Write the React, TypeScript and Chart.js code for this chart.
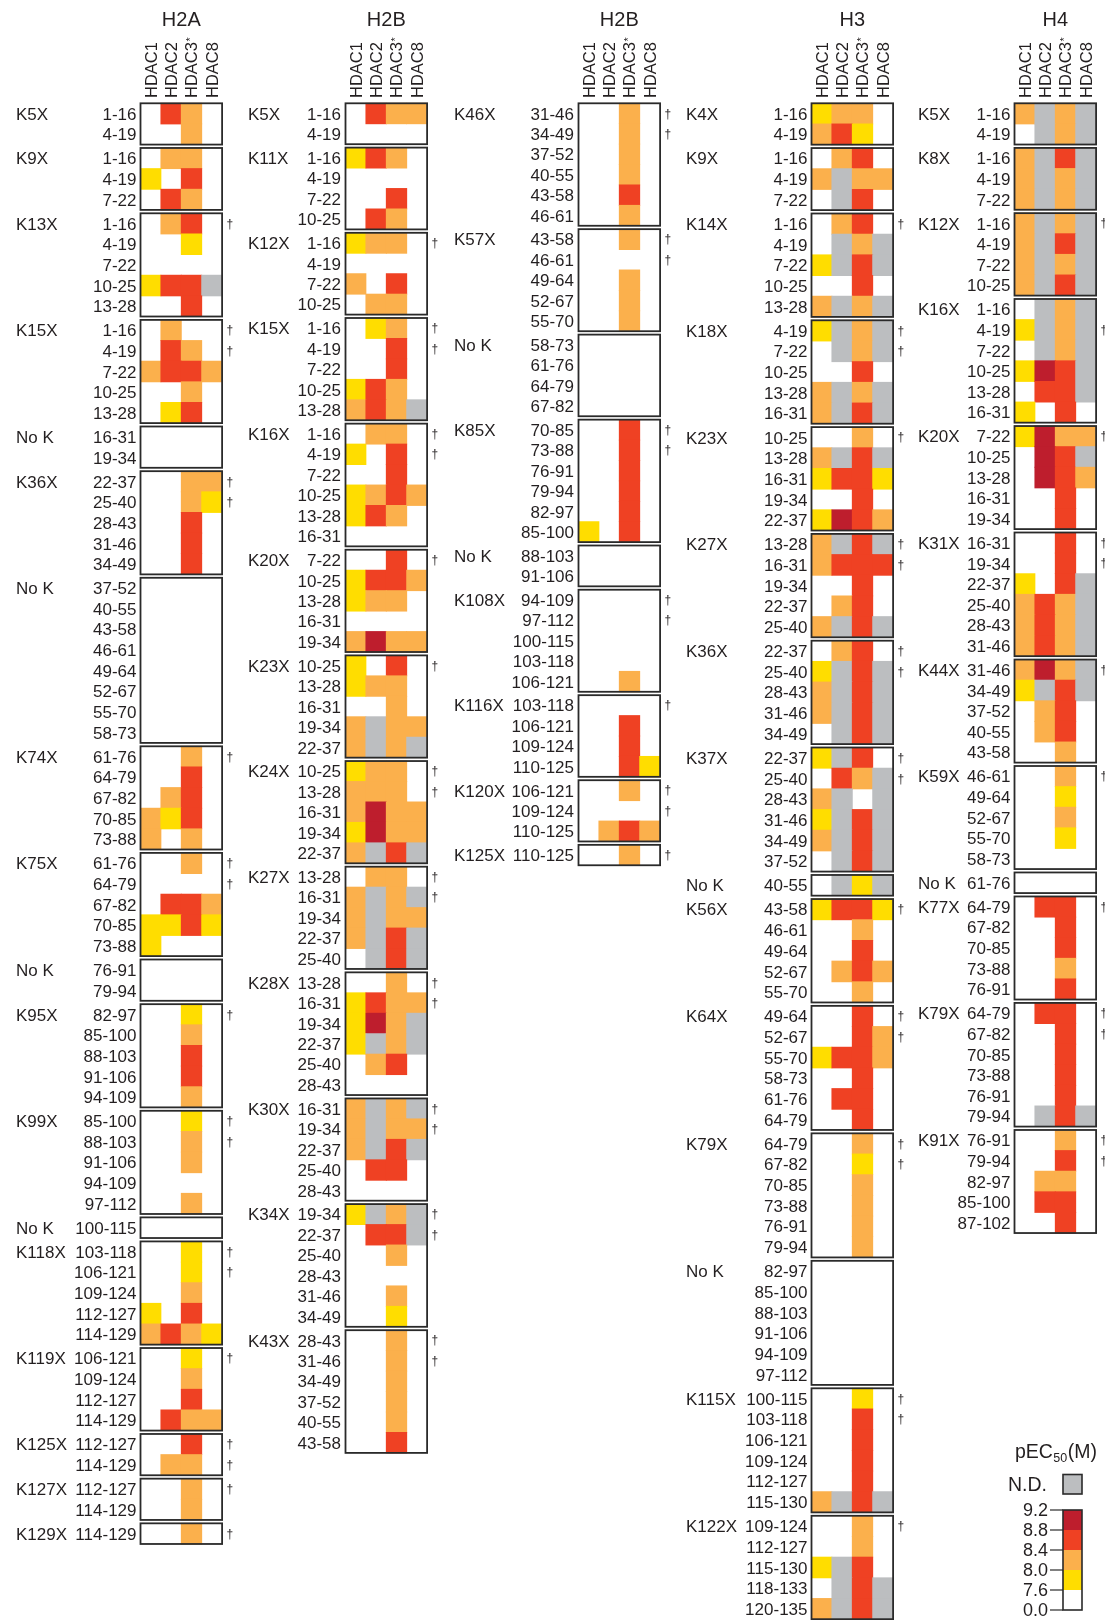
import React, { useEffect, useRef } from "react";
import { Chart, registerables } from "chart.js";

Chart.register(...registerables);

// ---------------- categories / legend ----------------
const HDAC_LABELS = ["HDAC1", "HDAC2", "HDAC3", "HDAC8"];
const HDAC_STAR = ["", "", "*", ""];
const LEGEND_TICKS = ["9.2", "8.8", "8.4", "8.0", "7.6", "0.0"];
// value codes: 0 = 0.0–7.6, 1 = 7.6–8.0, 2 = 8.0–8.4, 3 = 8.4–8.8, 4 = 8.8–9.2, G = N.D.

// ---------------- H2A ----------------
const H2A_GROUPS = ["K5X", "K9X", "K13X", "K15X", "No K", "K36X", "No K", "K74X", "K75X", "No K", "K95X", "K99X", "No K", "K118X", "K119X", "K125X", "K127X", "K129X"];
const H2A_PEPTIDES = [
  ["1-16", "4-19"],
  ["1-16", "4-19", "7-22"],
  ["1-16", "4-19", "7-22", "10-25", "13-28"],
  ["1-16", "4-19", "7-22", "10-25", "13-28"],
  ["16-31", "19-34"],
  ["22-37", "25-40", "28-43", "31-46", "34-49"],
  ["37-52", "40-55", "43-58", "46-61", "49-64", "52-67", "55-70", "58-73"],
  ["61-76", "64-79", "67-82", "70-85", "73-88"],
  ["61-76", "64-79", "67-82", "70-85", "73-88"],
  ["76-91", "79-94"],
  ["82-97", "85-100", "88-103", "91-106", "94-109"],
  ["85-100", "88-103", "91-106", "94-109", "97-112"],
  ["100-115"],
  ["103-118", "106-121", "109-124", "112-127", "114-129"],
  ["106-121", "109-124", "112-127", "114-129"],
  ["112-127", "114-129"],
  ["112-127", "114-129"],
  ["114-129"],
];
const H2A_VALUES = [
  ["0320", "0020"],
  ["0220", "1030", "0320"],
  ["0230", "0010", "0000", "133G", "0030"],
  ["0200", "0320", "2332", "0020", "0130"],
  ["0000", "0000"],
  ["0022", "0021", "0030", "0030", "0030"],
  ["0000", "0000", "0000", "0000", "0000", "0000", "0000", "0000"],
  ["0020", "0030", "0230", "2130", "2020"],
  ["0020", "0000", "0332", "1131", "1000"],
  ["0000", "0000"],
  ["0010", "0020", "0030", "0030", "0020"],
  ["0010", "0020", "0020", "0000", "0020"],
  ["0000"],
  ["0010", "0010", "0020", "1030", "2321"],
  ["0010", "0020", "0030", "0322"],
  ["0030", "0220"],
  ["0020", "0020"],
  ["0020"],
];
const H2A_DAGGERS = [[], [], [0], [0, 1], [], [0, 1], [], [0], [0, 1], [], [0], [0, 1], [], [0, 1], [0], [0, 1], [0], [0]];

// ---------------- H2B (left) ----------------
const H2B1_GROUPS = ["K5X", "K11X", "K12X", "K15X", "K16X", "K20X", "K23X", "K24X", "K27X", "K28X", "K30X", "K34X", "K43X"];
const H2B1_PEPTIDES = [
  ["1-16", "4-19"],
  ["1-16", "4-19", "7-22", "10-25"],
  ["1-16", "4-19", "7-22", "10-25"],
  ["1-16", "4-19", "7-22", "10-25", "13-28"],
  ["1-16", "4-19", "7-22", "10-25", "13-28", "16-31"],
  ["7-22", "10-25", "13-28", "16-31", "19-34"],
  ["10-25", "13-28", "16-31", "19-34", "22-37"],
  ["10-25", "13-28", "16-31", "19-34", "22-37"],
  ["13-28", "16-31", "19-34", "22-37", "25-40"],
  ["13-28", "16-31", "19-34", "22-37", "25-40", "28-43"],
  ["16-31", "19-34", "22-37", "25-40", "28-43"],
  ["19-34", "22-37", "25-40", "28-43", "31-46", "34-49"],
  ["28-43", "31-46", "34-49", "37-52", "40-55", "43-58"],
];
const H2B1_VALUES = [
  ["0322", "0000"],
  ["1320", "0000", "0030", "0320"],
  ["1220", "0000", "2030", "0220"],
  ["0120", "0030", "0030", "1320", "232G"],
  ["0220", "1030", "0030", "1232", "1320", "0000"],
  ["0030", "1332", "1220", "0000", "2422"],
  ["1030", "1220", "0020", "2G22", "2G2G"],
  ["1220", "2220", "2422", "1422", "2G3G"],
  ["0220", "2G2G", "2G22", "2G3G", "0G3G"],
  ["0020", "1322", "142G", "1G2G", "0230", "0000"],
  ["2G2G", "2G22", "2G3G", "0330", "0000"],
  ["1G2G", "033G", "0020", "0000", "0020", "0010"],
  ["0020", "0020", "0020", "0020", "0020", "0030"],
];
const H2B1_DAGGERS = [[], [], [0], [0, 1], [0, 1], [0], [0], [0, 1], [0, 1], [0, 1], [0, 1], [0, 1], [0, 1]];

// ---------------- H2B (right) ----------------
const H2B2_GROUPS = ["K46X", "K57X", "No K", "K85X", "No K", "K108X", "K116X", "K120X", "K125X"];
const H2B2_PEPTIDES = [
  ["31-46", "34-49", "37-52", "40-55", "43-58", "46-61"],
  ["43-58", "46-61", "49-64", "52-67", "55-70"],
  ["58-73", "61-76", "64-79", "67-82"],
  ["70-85", "73-88", "76-91", "79-94", "82-97", "85-100"],
  ["88-103", "91-106"],
  ["94-109", "97-112", "100-115", "103-118", "106-121"],
  ["103-118", "106-121", "109-124", "110-125"],
  ["106-121", "109-124", "110-125"],
  ["110-125"],
];
const H2B2_VALUES = [
  ["0020", "0020", "0020", "0020", "0030", "0020"],
  ["0020", "0000", "0020", "0020", "0020"],
  ["0000", "0000", "0000", "0000"],
  ["0030", "0030", "0030", "0030", "0030", "1030"],
  ["0000", "0000"],
  ["0000", "0000", "0000", "0000", "0020"],
  ["0000", "0030", "0030", "0031"],
  ["0020", "0000", "0232"],
  ["0020"],
];
const H2B2_DAGGERS = [[0, 1], [0, 1], [], [0, 1], [], [0, 1], [0], [0, 1], [0]];

// ---------------- H3 ----------------
const H3_GROUPS = ["K4X", "K9X", "K14X", "K18X", "K23X", "K27X", "K36X", "K37X", "No K", "K56X", "K64X", "K79X", "No K", "K115X", "K122X"];
const H3_PEPTIDES = [
  ["1-16", "4-19"],
  ["1-16", "4-19", "7-22"],
  ["1-16", "4-19", "7-22", "10-25", "13-28"],
  ["4-19", "7-22", "10-25", "13-28", "16-31"],
  ["10-25", "13-28", "16-31", "19-34", "22-37"],
  ["13-28", "16-31", "19-34", "22-37", "25-40"],
  ["22-37", "25-40", "28-43", "31-46", "34-49"],
  ["22-37", "25-40", "28-43", "31-46", "34-49", "37-52"],
  ["40-55"],
  ["43-58", "46-61", "49-64", "52-67", "55-70"],
  ["49-64", "52-67", "55-70", "58-73", "61-76", "64-79"],
  ["64-79", "67-82", "70-85", "73-88", "76-91", "79-94"],
  ["82-97", "85-100", "88-103", "91-106", "94-109", "97-112"],
  ["100-115", "103-118", "106-121", "109-124", "112-127", "115-130"],
  ["109-124", "112-127", "115-130", "118-133", "120-135"],
];
const H3_VALUES = [
  ["1220", "2310"],
  ["0230", "2G22", "0G30"],
  ["0230", "0G2G", "1G3G", "0030", "2G2G"],
  ["1G2G", "0G2G", "0030", "2G2G", "2G3G"],
  ["0020", "2G3G", "1331", "0030", "1432"],
  ["2G3G", "2333", "0030", "0230", "2G3G"],
  ["0230", "1G3G", "2G3G", "2G3G", "0G3G"],
  ["1G30", "032G", "2G0G", "1G3G", "2G3G", "0G3G"],
  ["0G1G"],
  ["1331", "0020", "0030", "0232", "0020"],
  ["0030", "0032", "1332", "0030", "0330", "0030"],
  ["0020", "0010", "0020", "0020", "0020", "0020"],
  ["0000", "0000", "0000", "0000", "0000", "0000"],
  ["0010", "0030", "0030", "0030", "0030", "2G3G"],
  ["0020", "0020", "1G30", "0G3G", "2G3G"],
];
const H3_DAGGERS = [[], [], [0], [0, 1], [0], [0, 1], [0, 1], [0, 1], [], [0], [0, 1], [0, 1], [], [0, 1], [0]];

// ---------------- H4 ----------------
const H4_GROUPS = ["K5X", "K8X", "K12X", "K16X", "K20X", "K31X", "K44X", "K59X", "No K", "K77X", "K79X", "K91X"];
const H4_PEPTIDES = [
  ["1-16", "4-19"],
  ["1-16", "4-19", "7-22"],
  ["1-16", "4-19", "7-22", "10-25"],
  ["1-16", "4-19", "7-22", "10-25", "13-28", "16-31"],
  ["7-22", "10-25", "13-28", "16-31", "19-34"],
  ["16-31", "19-34", "22-37", "25-40", "28-43", "31-46"],
  ["31-46", "34-49", "37-52", "40-55", "43-58"],
  ["46-61", "49-64", "52-67", "55-70", "58-73"],
  ["61-76"],
  ["64-79", "67-82", "70-85", "73-88", "76-91"],
  ["64-79", "67-82", "70-85", "73-88", "76-91", "79-94"],
  ["76-91", "79-94", "82-97", "85-100", "87-102"],
];
const H4_VALUES = [
  ["2G2G", "0G2G"],
  ["2G3G", "2G2G", "2G2G"],
  ["2G2G", "2G3G", "2G2G", "2G3G"],
  ["0G2G", "1G2G", "0G2G", "143G", "033G", "1030"],
  ["1422", "043G", "0432", "0030", "0030"],
  ["0030", "0030", "103G", "232G", "232G", "232G"],
  ["242G", "1G3G", "0230", "0230", "0020"],
  ["0020", "0010", "0020", "0010", "0000"],
  ["0000"],
  ["0330", "0030", "0030", "0020", "0030"],
  ["0330", "0030", "0030", "0030", "0030", "0G3G"],
  ["0020", "0030", "0220", "0330", "0030"],
];
const H4_DAGGERS = [[], [], [0], [1], [0], [0, 1], [0], [0], [], [0], [0, 1], [0, 1]];

// ---------------- panels (data) ----------------
const PANELS = [
  { title: "H2A", groups: H2A_GROUPS, peptides: H2A_PEPTIDES, values: H2A_VALUES, daggers: H2A_DAGGERS },
  { title: "H2B", groups: H2B1_GROUPS, peptides: H2B1_PEPTIDES, values: H2B1_VALUES, daggers: H2B1_DAGGERS },
  { title: "H2B", groups: H2B2_GROUPS, peptides: H2B2_PEPTIDES, values: H2B2_VALUES, daggers: H2B2_DAGGERS },
  { title: "H3", groups: H3_GROUPS, peptides: H3_PEPTIDES, values: H3_VALUES, daggers: H3_DAGGERS },
  { title: "H4", groups: H4_GROUPS, peptides: H4_PEPTIDES, values: H4_VALUES, daggers: H4_DAGGERS },
];

// ---------------- layout & style ----------------
const W = 1105;
const H = 1620;
const TOP = 103.3;
const GAP = 3.4;
const COL_W = 20.4;
const TITLE_Y = 18.6;
const HEADER_BOTTOM = 98;
const PANEL_POS = [
  { labelX: 16, pepRight: 136.5, boxLeft: 140.5, rowH: 20.64 },
  { labelX: 248, pepRight: 341, boxLeft: 345.5, rowH: 20.45 },
  { labelX: 454, pepRight: 574, boxLeft: 578.5, rowH: 20.41 },
  { labelX: 686, pepRight: 807.5, boxLeft: 811.5, rowH: 20.68 },
  { labelX: 918, pepRight: 1010.5, boxLeft: 1014.5, rowH: 20.61 },
];
const FONT = '"Liberation Sans", Arial, Helvetica, sans-serif';
const TEXT = "#231F20";
const BOX = "#2a2a2a";
const BIN_COLORS = ["#FFFFFF", "#FFDD00", "#FBB04C", "#EF4123", "#BE1E2D"];
const ND_COLOR = "#BCBEC0";

function codeColor(ch: string): string {
  if (ch === "G") return ND_COLOR;
  return BIN_COLORS[parseInt(ch, 10)] || "#FFFFFF";
}

type Cell = { x: number; y: [number, number]; color: string };

function buildCells(): Cell[] {
  const cells: Cell[] = [];
  PANELS.forEach((p, pi) => {
    const pos = PANEL_POS[pi];
    let before = 0;
    p.groups.forEach((_, gi) => {
      const rows = p.values[gi];
      rows.forEach((r, ri) => {
        const y0 = TOP + (before + ri) * pos.rowH + gi * GAP;
        for (let c = 0; c < 4; c++) {
          const ch = r[c];
          if (ch === "0") continue;
          cells.push({ x: pos.boxLeft + (c + 0.5) * COL_W, y: [y0, y0 + pos.rowH], color: codeColor(ch) });
        }
      });
      before += p.peptides[gi].length;
    });
  });
  return cells;
}

const overlayPlugin = {
  id: "overlay",
  afterDatasetsDraw(chart: any) {
    const ctx: CanvasRenderingContext2D = chart.ctx;
    const X = (v: number) => chart.scales.x.getPixelForValue(v);
    const Y = (v: number) => chart.scales.y.getPixelForValue(v);
    ctx.save();
    ctx.fillStyle = TEXT;
    const boxW = 4 * COL_W;

    PANELS.forEach((p, pi) => {
      const pos = PANEL_POS[pi];
      const RH = pos.rowH;
      // title
      ctx.font = `20px ${FONT}`;
      ctx.textAlign = "center";
      ctx.textBaseline = "alphabetic";
      ctx.fillStyle = TEXT;
      ctx.fillText(p.title, X(pos.boxLeft + boxW / 2), Y(TITLE_Y) + 0.358 * 20);
      // column headers
      HDAC_LABELS.forEach((lab, c) => {
        const cx = X(pos.boxLeft + (c + 0.5) * COL_W);
        ctx.save();
        ctx.translate(cx, Y(HEADER_BOTTOM));
        ctx.rotate(-Math.PI / 2);
        ctx.textAlign = "left";
        ctx.font = `16.5px ${FONT}`;
        ctx.fillText(lab, 0, 0.358 * 16.5);
        if (HDAC_STAR[c]) {
          const w = ctx.measureText(lab).width;
          ctx.font = `11px ${FONT}`;
          ctx.fillText(HDAC_STAR[c], w + 0.5, 0.358 * 16.5 - 3.5);
        }
        ctx.restore();
      });

      let before = 0;
      p.groups.forEach((g, gi) => {
        const n = p.peptides[gi].length;
        const yTop = TOP + before * RH + gi * GAP;
        // box
        ctx.lineWidth = 1.8;
        ctx.strokeStyle = BOX;
        const bx = X(pos.boxLeft);
        const by = Y(yTop);
        ctx.strokeRect(bx, by, X(pos.boxLeft + boxW) - bx, Y(yTop + n * RH) - by);
        // group label
        ctx.font = `17px ${FONT}`;
        ctx.textAlign = "left";
        ctx.fillStyle = TEXT;
        ctx.fillText(g, X(pos.labelX), Y(yTop + RH / 2) + 0.358 * 17);
        // peptides
        ctx.textAlign = "right";
        p.peptides[gi].forEach((pep, ri) => {
          const cy = Y(yTop + (ri + 0.5) * RH);
          ctx.fillText(pep, X(pos.pepRight), cy + 0.358 * 17);
        });
        // daggers
        ctx.font = `12px ${FONT}`;
        ctx.textAlign = "left";
        p.daggers[gi].forEach((ri) => {
          const cy = Y(yTop + (ri + 0.5) * RH);
          ctx.fillText("\u2020", X(pos.boxLeft + boxW + 4.5), cy + 4);
        });
        before += n;
      });
    });

    // ---------- legend ----------
    const LF = 19.5;
    ctx.fillStyle = TEXT;
    ctx.textAlign = "left";
    ctx.font = `${LF}px ${FONT}`;
    const wP = ctx.measureText("pEC").width;
    const wM = ctx.measureText("(M)").width;
    ctx.font = `12.5px ${FONT}`;
    const w50 = ctx.measureText("50").width;
    const right = 1097;
    const lx = X(right) - (wP + w50 + wM + 1);
    const ly = Y(1451) + 0.358 * LF;
    ctx.font = `${LF}px ${FONT}`;
    ctx.fillText("pEC", lx, ly);
    ctx.font = `12.5px ${FONT}`;
    ctx.fillText("50", lx + wP + 0.5, ly + 4.5);
    ctx.font = `${LF}px ${FONT}`;
    ctx.fillText("(M)", lx + wP + w50 + 1, ly);

    // N.D.
    ctx.textAlign = "right";
    ctx.fillText("N.D.", X(1047), Y(1484) + 0.358 * LF);
    ctx.fillStyle = ND_COLOR;
    ctx.fillRect(X(1063), Y(1474.5), X(1082) - X(1063), Y(1494) - Y(1474.5));
    ctx.lineWidth = 1.6;
    ctx.strokeStyle = BOX;
    ctx.strokeRect(X(1063), Y(1474.5), X(1082) - X(1063), Y(1494) - Y(1474.5));

    // colour bar
    const barTop = 1510;
    const seg = 20;
    const segColors = [BIN_COLORS[4], BIN_COLORS[3], BIN_COLORS[2], BIN_COLORS[1], BIN_COLORS[0]];
    segColors.forEach((col, i) => {
      ctx.fillStyle = col;
      ctx.fillRect(X(1063), Y(barTop + i * seg), X(1082) - X(1063), Y(barTop + (i + 1) * seg) - Y(barTop + i * seg));
    });
    ctx.strokeStyle = BOX;
    ctx.lineWidth = 1.6;
    ctx.strokeRect(X(1063), Y(barTop), X(1082) - X(1063), Y(barTop + 5 * seg) - Y(barTop));
    ctx.lineWidth = 1.2;
    ctx.fillStyle = TEXT;
    ctx.font = `18px ${FONT}`;
    ctx.textAlign = "right";
    LEGEND_TICKS.forEach((t, i) => {
      const ty = Y(barTop + i * seg);
      ctx.beginPath();
      ctx.moveTo(X(1050), ty);
      ctx.lineTo(X(1063), ty);
      ctx.stroke();
      ctx.fillText(t, X(1048), ty + 0.358 * 18);
    });

    ctx.restore();
  },
};

export default function App() {
  const ref = useRef<HTMLCanvasElement | null>(null);
  useEffect(() => {
    if (!ref.current) return;
    const cells = buildCells();
    const chart = new Chart(ref.current, {
      type: "bar",
      data: {
        datasets: [
          {
            data: cells.map((c) => ({ x: c.x, y: c.y })) as any,
            backgroundColor: cells.map((c) => c.color),
            borderWidth: 0,
            barThickness: COL_W,
            inflateAmount: 0.45,
            grouped: false,
          } as any,
        ],
      },
      options: {
        animation: false,
        responsive: false,
        maintainAspectRatio: false,
        events: [],
        layout: { padding: 0 },
        plugins: {
          legend: { display: false },
          tooltip: { enabled: false },
          title: { display: false },
        },
        scales: {
          x: { type: "linear", min: 0, max: W, display: false, offset: false, grid: { offset: false } },
          y: { type: "linear", min: 0, max: H, reverse: true, display: false },
        },
      } as any,
      plugins: [overlayPlugin],
    });
    return () => chart.destroy();
  }, []);
  return (
    <div style={{ position: "fixed", left: 0, top: 0, width: W, height: H, background: "#ffffff" }}>
      <canvas ref={ref} width={W} height={H} style={{ display: "block", width: W, height: H }} />
    </div>
  );
}
